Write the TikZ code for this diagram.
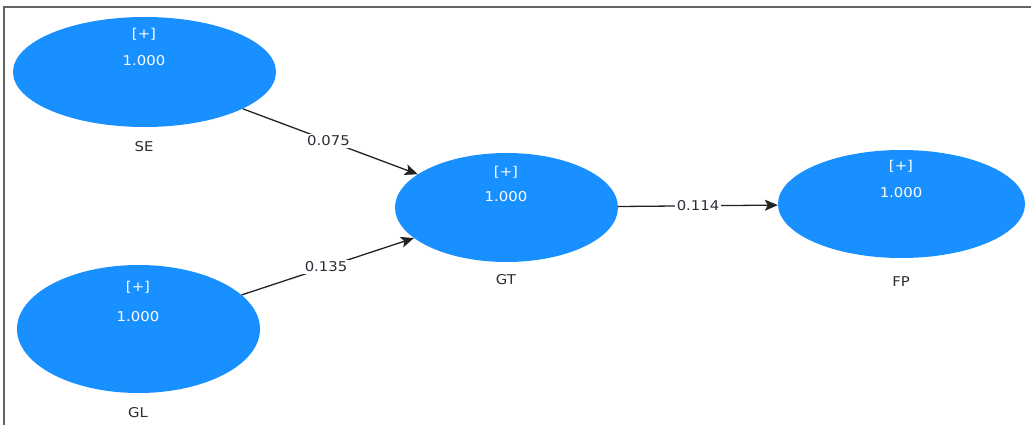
\documentclass[tikz,border=0pt]{standalone}
\usepackage{fontspec}
\newfontfamily\lblfont[FakeStretch=1.1]{DejaVu Sans}
\usetikzlibrary{shapes.geometric,arrows.meta}
\definecolor{lvblue}{RGB}{24,144,255}
\definecolor{edgegray}{RGB}{35,35,35}
\definecolor{txtgray}{RGB}{45,45,55}
\definecolor{framegray}{RGB}{100,100,100}
\tikzset{
  lv/.style={ellipse, fill=lvblue, draw=none, inner sep=0pt},
  intext/.style={text=white, font=\lblfont\fontsize{13.5}{15}\selectfont, inner sep=0pt},
  nametext/.style={text=txtgray, font=\lblfont\fontsize{13.5}{15}\selectfont, inner sep=0pt},
  conn/.style={draw=edgegray, line width=1.3pt, -{Stealth[length=13pt,width=11pt,inset=3pt]}},
  elabel/.style={fill=white, text=txtgray, font=\lblfont\fontsize{13.5}{15}\selectfont, inner sep=2pt}
}
\begin{document}
\begin{tikzpicture}[x=1pt,y=-1pt]
\useasboundingbox (0,0) rectangle (1031,425);
\fill[white] (0,0) rectangle (1031,425);
\draw[framegray, line width=1.4pt] (4,425) -- (4,7) -- (1031,7);
% latent variables
\node[lv, minimum width=263pt, minimum height=110pt] (SE) at (144.5,72) {};
\node[lv, minimum width=243pt, minimum height=128pt] (GL) at (138.5,329) {};
\node[lv, minimum width=223pt, minimum height=109pt] (GT) at (506.5,207.5) {};
\node[lv, minimum width=247pt, minimum height=108pt] (FP) at (901.5,204) {};
% inner texts
\node[intext] (SEp) at (144,34) {[+]};
\node[intext] (SEv) at (144,61) {1.000};
\node[intext] (GLp) at (138,287) {[+]};
\node[intext] (GLv) at (138,317) {1.000};
\node[intext] (GTp) at (506,172) {[+]};
\node[intext] (GTv) at (506,197) {1.000};
\node[intext] (FPp) at (901,166) {[+]};
\node[intext] (FPv) at (901,193) {1.000};
% names
\node[nametext] (SEn) at (144,147) {SE};
\node[nametext] (GLn) at (138,413) {GL};
\node[nametext] (GTn) at (506,280) {GT};
\node[nametext] (FPn) at (901,282) {FP};
% paths
\draw[conn] (SE) -- node[elabel, pos=0.49] {0.075} (GT);
\draw[conn] (GL) -- node[elabel, pos=0.49] {0.135} (GT);
\draw[conn] (GT) -- node[elabel, pos=0.5] {0.114} (FP);
\end{tikzpicture}
\end{document}
